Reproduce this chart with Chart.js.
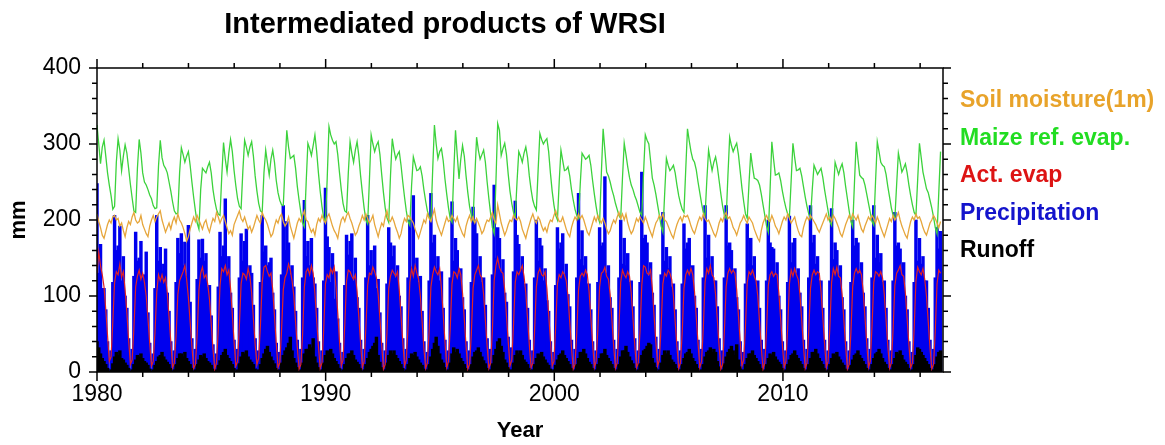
<!DOCTYPE html>
<html>
<head>
<meta charset="utf-8">
<script src="https://cdn.jsdelivr.net/npm/chart.js@4.4.1/dist/chart.umd.min.js"></script>
<style>
  body { margin: 0; background: #fff; }
  #wrap { width: 1165px; height: 445px; }
</style>
</head>
<body>
<div id="wrap"><canvas id="wrsiChart" width="1165" height="445"></canvas></div>
<script>
// time axis: one value per step, the seasonal cycle repeats every 12 steps
const startYear = 1980;
const stepYears = 0.07686;
const yearTicks = [1980, 1990, 2000, 2010];
const mmTicks = [0, 100, 200, 300, 400];

const seriesNames = ['Soil moisture(1m)', 'Maize ref. evap.', 'Act. evap', 'Precipitation', 'Runoff'];

// values (mm), one line per seasonal cycle
const soilMoisture = [
  208,198,190,180,176,185,194,200,196,204,206,200,
  202,192,196,186,178,190,198,194,204,210,200,196,
  198,206,194,188,182,178,192,200,206,198,204,208,
  212,200,192,184,190,196,188,198,204,196,208,200,
  196,190,182,172,178,188,196,204,198,206,200,194,
  188,196,200,190,184,194,202,198,210,204,196,202,
  206,198,190,182,186,180,194,200,206,212,202,198,
  204,196,188,192,184,190,198,206,200,196,210,204,
  200,194,186,178,182,192,200,196,204,208,198,192,
  196,204,192,184,176,186,196,202,198,206,212,200,
  198,190,184,188,180,194,202,198,206,200,196,204,
  208,200,192,186,182,176,190,200,204,198,206,210,
  202,196,188,180,184,192,198,206,200,208,202,196,
  200,206,194,186,178,188,196,192,204,212,200,198,
  204,198,190,184,176,182,194,202,198,206,204,200,
  196,188,182,176,184,192,200,196,208,202,198,206,
  214,200,192,186,180,188,196,204,198,200,206,202,
  198,204,194,188,182,178,192,200,206,198,204,196,
  202,196,190,182,186,194,200,198,204,210,200,196,
  220,208,196,188,180,186,194,200,198,206,202,200,
  204,198,188,182,176,186,194,202,208,200,196,204,
  200,192,186,190,184,194,200,198,206,212,204,198,
  198,204,196,188,182,178,190,198,204,200,208,202,
  206,200,192,184,180,188,196,204,198,206,200,196,
  202,196,188,182,186,194,200,196,204,210,202,208,
  200,208,196,188,182,186,194,202,198,204,200,196,
  204,198,190,184,178,188,196,200,206,202,208,200,
  198,192,186,180,176,186,194,200,204,198,206,204,
  206,200,192,186,182,190,198,204,200,208,202,198,
  200,194,188,182,178,186,196,202,198,206,210,202,
  204,198,190,186,180,188,196,200,206,200,196,204,
  200,196,188,182,176,172,186,196,202,206,200,198,
  206,200,192,188,182,190,198,204,200,208,202,196,
  200,204,194,186,180,178,190,198,204,200,206,202,
  198,194,188,184,190,196,202,208,200,204,198,206,
  202,196,190,182,178,186,194,200,206,200,208,204,
  200,206,196,188,184,192,198,204,200,206,202,196,
  204,198,190,184,178,186,194,202,198,206,200,204,
  210,200,192,186,180,176,188,198,204,200,208,202,
  204,198,190,184,180,188,196,200,206,202,196,190,
  198
];

const maizeRefEvap = [
  325,300,274,296,305,284,262,246,232,214,218,276,
  307,292,265,284,299,288,268,247,229,212,210,268,
  306,288,262,250,246,240,233,228,219,215,216,271,
  305,282,272,268,262,250,238,224,212,208,209,262,
  295,286,276,284,290,272,250,230,212,196,188,240,
  268,265,262,270,276,262,240,225,214,208,206,258,
  302,280,263,288,306,290,265,245,228,218,215,265,
  305,296,285,296,303,284,258,238,222,212,210,262,
  292,275,259,280,292,276,252,236,226,220,219,270,
  318,296,281,283,285,268,244,226,210,196,191,248,
  301,294,285,298,312,290,262,238,218,203,197,255,
  323,312,305,300,303,286,262,240,222,212,210,262,
  303,288,276,292,303,284,258,236,216,200,195,252,
  312,300,290,298,303,286,260,236,216,203,197,258,
  307,292,280,286,290,272,250,230,212,198,193,245,
  283,274,265,266,270,258,240,225,212,204,200,265,
  325,300,281,290,294,278,254,234,216,202,197,262,
  318,285,254,280,298,284,258,236,218,206,200,258,
  309,292,280,286,292,276,250,228,208,190,182,250,
  327,318,285,294,301,286,260,238,222,210,204,250,
  290,284,276,288,296,282,258,240,226,218,213,265,
  314,306,300,304,307,290,262,238,220,206,200,250,
  292,278,265,266,270,258,240,226,214,206,202,248,
  288,284,280,282,285,272,252,234,218,204,197,262,
  320,292,263,258,250,240,232,222,214,206,202,255,
  301,286,270,256,246,240,232,226,218,210,206,262,
  312,305,300,278,255,246,234,220,206,192,184,234,
  281,272,265,268,272,262,246,232,222,214,210,266,
  320,304,290,280,276,266,250,236,222,210,206,252,
  292,278,265,276,283,270,252,234,218,206,202,258,
  309,298,290,296,301,286,264,242,224,208,202,248,
  288,270,255,254,252,246,234,220,206,192,184,240,
  303,280,259,260,262,252,238,226,216,208,204,252,
  301,282,265,266,268,258,244,230,218,208,202,240,
  272,266,260,264,268,256,240,226,212,198,193,236,
  276,268,260,268,274,262,244,228,212,198,191,248,
  303,280,259,256,254,246,234,222,210,198,193,250,
  303,290,276,272,270,260,244,230,216,206,202,246,
  288,276,263,268,274,262,246,232,220,210,206,254,
  301,282,263,252,241,236,226,216,204,190,182,236,
  290
];

const actEvap = [
  130,158,140,128,112,82,48,14,20,66,118,132,
  128,142,125,132,108,78,42,10,16,58,112,126,
  134,122,130,118,100,70,38,8,14,52,105,128,
  120,128,118,124,104,72,40,6,12,48,102,120,
  126,132,140,122,98,66,34,5,10,50,108,130,
  138,124,128,116,96,64,30,4,12,56,114,136,
  132,140,128,134,110,76,40,8,14,60,116,130,
  128,122,136,126,104,70,36,10,18,62,118,138,
  140,132,126,130,108,74,38,6,12,54,108,124,
  130,142,134,120,100,66,32,4,10,50,112,132,
  136,128,140,130,104,68,34,5,12,56,116,128,
  124,136,130,138,112,78,40,8,16,62,120,134,
  132,126,122,128,106,72,38,6,14,58,114,130,
  128,138,132,124,102,70,36,4,10,52,110,126,
  134,130,126,132,108,74,40,8,16,60,118,136,
  126,140,130,122,100,66,32,5,12,54,112,128,
  138,132,128,136,110,76,40,6,14,58,116,132,
  130,124,136,128,104,70,34,4,10,50,110,128,
  134,140,128,124,102,68,34,5,12,56,120,140,
  150,138,132,130,108,74,40,8,16,62,118,132,
  128,134,140,126,104,70,36,6,12,54,112,130,
  136,128,126,132,110,76,42,8,14,60,116,128,
  124,132,128,120,100,66,32,4,10,52,108,126,
  130,126,134,128,106,72,38,6,14,56,112,130,
  132,138,126,122,102,68,34,5,12,58,118,134,
  128,124,132,126,104,70,36,6,12,54,114,140,
  138,130,128,134,110,74,40,8,16,60,116,130,
  126,134,130,122,100,66,34,5,12,52,110,128,
  134,128,136,128,106,72,38,6,14,58,118,136,
  130,140,128,124,102,68,34,4,10,54,112,130,
  136,130,134,130,108,74,40,8,16,60,118,132,
  128,134,126,120,100,66,32,4,12,56,114,128,
  132,126,130,128,104,70,36,6,14,58,116,134,
  126,136,128,122,102,68,34,5,12,54,110,128,
  134,128,132,130,106,72,38,6,14,58,118,136,
  128,138,126,124,102,68,34,4,10,52,112,130,
  136,130,134,128,106,72,38,6,14,60,118,132,
  130,126,132,124,102,68,34,5,12,56,114,130,
  134,140,128,126,104,70,36,6,12,58,120,138,
  132,128,136,122,100,66,32,4,10,54,116,134,
  130
];

const precipitation = [
  248,130,168,110,110,82,40,4,28,118,206,160,
  166,192,120,152,100,84,44,3,30,126,184,146,
  150,172,124,128,158,78,38,4,24,110,206,146,
  164,132,142,162,104,80,40,3,28,118,176,156,
  182,140,171,126,193,92,44,5,30,122,174,150,
  175,146,156,112,114,74,36,3,24,112,184,152,
  166,228,128,152,104,84,42,4,30,124,182,146,
  172,188,134,140,130,88,44,5,28,118,206,158,
  166,140,144,150,104,82,38,3,26,128,219,160,
  198,170,128,140,112,80,42,4,30,124,226,152,
  172,140,176,124,116,84,40,3,28,120,242,178,
  164,118,156,96,132,70,38,4,26,114,180,154,
  172,182,120,150,98,84,42,3,30,124,206,140,
  160,128,166,110,122,78,38,4,28,116,190,170,
  152,166,124,140,100,86,44,5,30,124,200,138,
  232,140,150,118,126,80,40,3,26,120,235,170,
  180,136,152,120,132,84,42,4,28,124,224,146,
  176,160,126,136,98,82,40,3,28,118,217,200,
  182,140,152,118,124,88,44,5,30,128,246,150,
  190,176,132,148,104,92,46,6,32,132,225,180,
  168,132,152,112,116,84,42,4,28,124,200,146,
  176,166,120,136,94,80,40,3,26,114,190,162,
  170,182,128,142,102,86,42,5,30,124,235,148,
  186,140,152,116,116,82,40,4,28,118,190,166,
  170,257,130,140,98,84,42,5,30,124,200,142,
  176,140,156,118,120,86,44,4,28,118,263,176,
  180,170,126,144,104,88,46,5,30,128,210,146,
  164,136,152,112,116,82,40,3,28,116,195,162,
  170,176,128,140,100,84,42,4,30,124,219,150,
  180,140,152,120,120,86,44,5,28,124,219,166,
  170,160,132,136,98,82,40,3,26,116,195,142,
  176,140,152,116,120,84,42,4,30,120,200,170,
  164,162,128,144,100,82,40,5,28,118,205,144,
  170,176,130,136,104,86,42,4,30,124,219,170,
  180,142,152,120,120,84,42,3,28,120,215,148,
  170,160,128,140,98,82,40,4,28,118,200,166,
  176,170,130,144,104,86,44,5,30,124,219,150,
  180,144,156,118,120,84,42,4,28,120,210,166,
  170,162,130,144,100,82,40,3,26,118,200,146,
  176,142,152,120,120,84,42,4,30,124,190,162,
  185
];

const runoff = [
  40,32,24,18,14,10,5,1,3,11,20,26,
  22,28,18,16,12,9,5,1,3,10,16,22,
  20,24,18,14,12,9,4,1,3,9,14,20,
  22,26,20,16,13,10,5,1,3,10,18,24,
  24,20,26,18,14,10,5,1,3,10,16,22,
  20,24,18,14,12,9,4,1,3,9,15,22,
  26,30,22,18,14,10,5,1,3,11,20,26,
  24,28,20,16,13,10,4,1,3,10,18,24,
  30,34,26,20,15,11,5,1,3,12,22,28,
  32,38,46,28,18,12,6,1,3,12,24,30,
  30,36,32,44,20,12,6,1,3,12,22,28,
  26,30,24,18,14,10,5,1,3,10,18,24,
  24,28,22,16,13,10,5,1,3,10,18,26,
  30,34,38,46,22,13,6,1,3,12,22,28,
  24,28,22,18,14,10,5,1,3,10,18,24,
  22,26,20,16,12,9,4,1,3,10,20,30,
  38,46,34,24,16,12,6,1,3,12,24,32,
  26,30,24,18,14,10,5,1,3,10,20,26,
  28,32,26,20,15,11,5,1,3,11,22,30,
  40,44,34,26,16,12,6,1,3,12,22,28,
  24,28,22,16,13,10,5,1,3,10,18,24,
  22,26,20,16,12,9,4,1,3,9,16,22,
  24,28,22,18,14,10,5,1,3,10,18,26,
  26,30,24,18,13,10,5,1,3,10,18,24,
  24,30,22,18,14,10,5,1,3,10,20,28,
  28,34,26,20,15,11,5,1,3,11,22,28,
  30,34,38,36,18,12,6,1,3,12,22,28,
  24,28,22,16,13,10,5,1,3,10,18,24,
  26,30,24,18,14,10,5,1,3,10,20,26,
  28,32,26,30,26,14,7,1,3,11,20,26,
  30,34,28,22,36,16,7,1,3,10,18,24,
  24,28,22,18,14,10,5,1,3,10,18,24,
  22,26,20,16,13,10,5,1,3,10,16,22,
  24,28,22,18,14,10,5,1,3,10,18,26,
  26,30,24,18,14,10,5,1,3,10,18,24,
  22,26,20,16,12,9,4,1,3,9,16,22,
  24,28,22,18,14,10,5,1,3,10,18,24,
  26,30,24,18,13,10,5,1,3,10,18,26,
  24,28,22,16,13,10,5,1,3,10,22,32,
  30,26,22,18,14,10,5,1,3,10,20,26,
  28
];

const FONT = "'Liberation Sans', Arial, Helvetica, sans-serif";

// turn a value list into {x, y} points on the year axis
function toPoints(values) {
    return values.map((v, i) => ({ x: startYear + i * stepYears, y: v }));
}

// frame, outward ticks, title and the coloured legend on the right
const framePlugin = {
    id: 'frameAndText',
    afterDraw(chart) {
        const ctx = chart.ctx;
        const { left, right, top, bottom } = chart.chartArea;
        const xs = chart.scales.x;
        const ys = chart.scales.y;

        ctx.save();
        ctx.strokeStyle = '#000';
        ctx.lineWidth = 1.5;
        ctx.strokeRect(left, top, right - left, bottom - top);

        ctx.beginPath();
        for (let v = 0; v <= 400; v += 20) {
            const y = ys.getPixelForValue(v);
            const len = mmTicks.includes(v) ? 8 : 5;
            ctx.moveTo(left, y); ctx.lineTo(left - len, y);
            ctx.moveTo(right, y); ctx.lineTo(right + len, y);
        }
        for (let yr = 1980; yr <= 2016; yr += 2) {
            const x = xs.getPixelForValue(yr);
            const len = yearTicks.includes(yr) ? 9 : 5;
            ctx.moveTo(x, bottom); ctx.lineTo(x, bottom + len);
            ctx.moveTo(x, top); ctx.lineTo(x, top - len);
        }
        ctx.stroke();

        // title
        ctx.fillStyle = '#000';
        ctx.font = 'bold 29px ' + FONT;
        ctx.textAlign = 'center';
        ctx.textBaseline = 'alphabetic';
        ctx.fillText('Intermediated products of WRSI', 445, 33);

        // legend
        ctx.font = 'bold 23px ' + FONT;
        ctx.textAlign = 'left';
        const legendColors = ['#E8A32A', '#22DD22', '#DD1414', '#1414CC', '#000000'];
        seriesNames.forEach((name, i) => {
            ctx.fillStyle = legendColors[i];
            ctx.fillText(name, 960, 107 + i * 37.5);
        });
        ctx.restore();
    }
};

const ctx = document.getElementById('wrsiChart').getContext('2d');

new Chart(ctx, {
    type: 'bar',
    data: {
        datasets: [
            {
                type: 'line',
                label: seriesNames[0],
                data: toPoints(soilMoisture),
                borderColor: '#E6A63C',
                borderWidth: 1.3,
                pointRadius: 0,
                order: 0
            },
            {
                type: 'line',
                label: seriesNames[1],
                data: toPoints(maizeRefEvap),
                borderColor: '#3CD23C',
                borderWidth: 1.3,
                pointRadius: 0,
                order: 1
            },
            {
                type: 'line',
                label: seriesNames[2],
                data: toPoints(actEvap),
                borderColor: '#E02424',
                borderWidth: 1.2,
                pointRadius: 0,
                order: 2
            },
            {
                type: 'bar',
                label: seriesNames[4],
                data: toPoints(runoff),
                backgroundColor: '#000000',
                grouped: false,
                barThickness: 2.8,
                order: 3
            },
            {
                type: 'bar',
                label: seriesNames[3],
                data: toPoints(precipitation),
                backgroundColor: '#0000EE',
                grouped: false,
                barThickness: 2.8,
                order: 4
            }
        ]
    },
    options: {
        responsive: false,
        animation: false,
        devicePixelRatio: 1,
        layout: {
            padding: { top: 68, right: 222, bottom: 0, left: 0 }
        },
        scales: {
            x: {
                type: 'linear',
                min: 1980,
                max: 2017,
                offset: false,
                grid: { display: false, drawTicks: false },
                border: { display: false },
                ticks: {
                    stepSize: 10,
                    includeBounds: false,
                    autoSkip: false,
                    maxRotation: 0,
                    padding: 9,
                    color: '#000',
                    font: { family: FONT, size: 23 },
                    callback: (v) => yearTicks.includes(v) ? String(v) : ''
                },
                title: {
                    display: true,
                    text: 'Year',
                    color: '#000',
                    font: { family: FONT, size: 22, weight: 'bold' },
                    padding: { top: 0, bottom: 1 }
                },
                afterFit: (scale) => { scale.height = 73; }
            },
            y: {
                min: 0,
                max: 400,
                grid: { display: false, drawTicks: false },
                border: { display: false },
                ticks: {
                    stepSize: 100,
                    padding: 16,
                    color: '#000',
                    font: { family: FONT, size: 23 },
                    callback: (v) => mmTicks.includes(v) ? String(v) : ''
                },
                title: {
                    display: true,
                    text: 'mm',
                    color: '#000',
                    font: { family: FONT, size: 22, weight: 'bold' },
                    padding: { top: 6, bottom: 0 }
                },
                afterFit: (scale) => { scale.width = 97; }
            }
        },
        plugins: {
            legend: { display: false },
            tooltip: { enabled: false }
        }
    },
    plugins: [framePlugin]
});
</script>
</body>
</html>
